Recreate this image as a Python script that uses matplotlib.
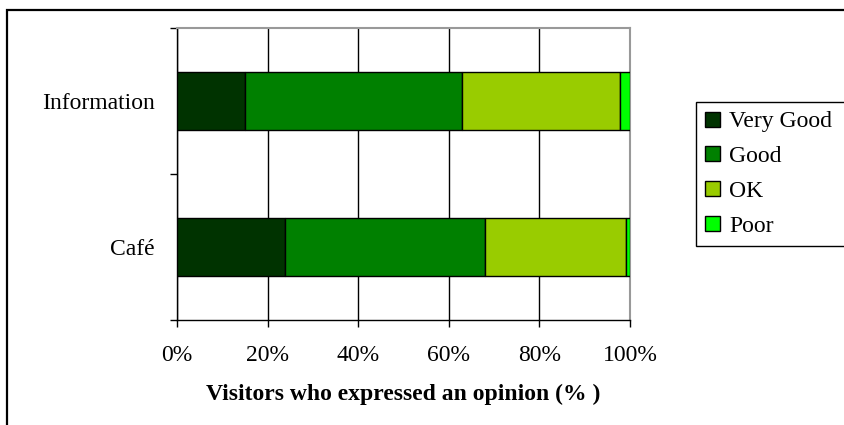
import matplotlib.pyplot as plt
from matplotlib.patches import Rectangle, Patch
from matplotlib.ticker import FixedLocator, PercentFormatter

plt.rcParams['font.family'] = ['Liberation Serif', 'DejaVu Serif']

# data (percent of visitors)
categories = ['Café', 'Information']
ratings = ['Very Good', 'Good', 'OK', 'Poor']
very_good = [23.9, 15.1]
good = [44.2, 47.8]
ok = [31.0, 34.9]
poor = [0.9, 2.2]
colors = ['#003300', '#008000', '#99CC00', '#00FF00']

fig = plt.figure(figsize=(8.44, 4.25), dpi=100)
ax = fig.add_axes([177 / 844, 1 - 320 / 425, 453 / 844, 292 / 425])

ypos = list(range(len(categories)))
left = [0.0] * len(categories)
for vals, col, name in zip([very_good, good, ok, poor], colors, ratings):
    ax.barh(ypos, vals, left=left, height=0.4, color=col,
            edgecolor='black', linewidth=1.0, label=name, zorder=3)
    left = [a + b for a, b in zip(left, vals)]

ax.set_xlim(0, 100)
ax.set_ylim(-0.5, 1.5)
ax.set_xticks([0, 20, 40, 60, 80, 100])
ax.xaxis.set_major_formatter(PercentFormatter(decimals=0))
ax.set_yticks(ypos)
ax.set_yticklabels(categories)
ax.yaxis.set_minor_locator(FixedLocator([-0.5, 0.5, 1.5]))
ax.tick_params(axis='y', which='major', length=0, pad=16, labelsize=17)
ax.tick_params(axis='y', which='minor', length=5, width=1, color='black')
ax.tick_params(axis='x', length=5, width=1, pad=13, labelsize=17)

ax.grid(axis='x', color='black', linewidth=1, zorder=0)
for s in ['top', 'right']:
    ax.spines[s].set_color('#999999')
    ax.spines[s].set_linewidth(1.5)
for s in ['left', 'bottom']:
    ax.spines[s].set_color('black')
    ax.spines[s].set_linewidth(1)

ax.set_xlabel('Visitors who expressed an opinion (% )', fontsize=17,
              fontweight='bold', labelpad=13)

handles = [Patch(facecolor=c, edgecolor='black', linewidth=1) for c in colors]
fig.legend(handles, ratings, loc='upper left',
           bbox_to_anchor=(696 / 844, 1 - 245 / 425, 160 / 844, 143 / 425),
           mode='expand', fontsize=17, handlelength=0.6, handleheight=0.6,
           handletextpad=0.4, labelspacing=0.58, borderpad=0.4,
           borderaxespad=0, frameon=True, fancybox=False,
           edgecolor='black', framealpha=1)

# outer chart-area border (only left and top visible in the crop)
fig.patches.append(Rectangle((7 / 844, -0.2), 1.5, 0.2 + 1 - 10 / 425,
                             transform=fig.transFigure, fill=False,
                             edgecolor='black', linewidth=1.6))

fig.savefig('out.png', dpi=100)
